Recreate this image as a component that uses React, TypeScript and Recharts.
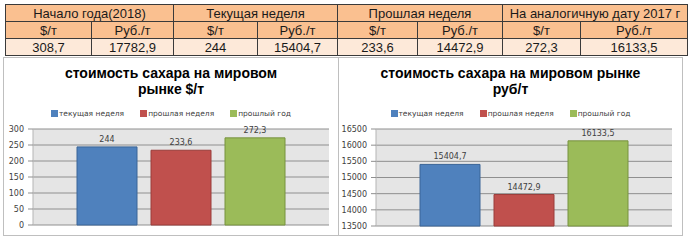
import { BarChart, Bar, XAxis, YAxis, CartesianGrid, Legend, LabelList } from 'recharts';

const groupHeaders = ['Начало года(2018)', 'Текущая неделя', 'Прошлая неделя', 'На аналогичную дату 2017 г'];
const unitHeaders = ['$/т', 'Руб./т', '$/т', 'Руб./т', '$/т', 'Руб./т', '$/т', 'Руб./т'];
const tableValues = ['308,7', '17782,9', '244', '15404,7', '233,6', '14472,9', '272,3', '16133,5'];
const colWidths = [86, 82, 84, 80, 80, 85, 78, 107];

const seriesNames = ['текущая неделя', 'прошлая неделя', 'прошлый год'];
const seriesColors = ['#4F81BD', '#C0504D', '#9BBB59'];
const seriesStrokes = ['#3A6597', '#9A3C3A', '#77923F'];
const usdValues = [244, 233.6, 272.3];
const rubValues = [15404.7, 14472.9, 16133.5];
const usdTicks = [0, 50, 100, 150, 200, 250, 300];
const rubTicks = [13500, 14000, 14500, 15000, 15500, 16000, 16500];

const chartFont = '"DejaVu Sans", Verdana, sans-serif';
const fmt = (v: any) => String(v).replace('.', ',');

const toRow = (vals: number[]) => {
  const row: Record<string, any> = { name: '' };
  vals.forEach((v, i) => (row['s' + i] = v));
  return [row];
};

const LegendBox = (props: any) => {
  const items = [...(props.payload || [])].sort((a: any, b: any) => seriesNames.indexOf(a.value) - seriesNames.indexOf(b.value));
  return (
    <div style={{ display: 'flex', justifyContent: 'center', gap: 16, fontFamily: chartFont, fontSize: 7.5, color: '#404040' }}>
      {items.map((p: any) => (
        <div key={p.value} style={{ display: 'flex', alignItems: 'center' }}>
          <span style={{ width: 7, height: 7, background: p.color, marginRight: 1 }} />
          {p.value}
        </div>
      ))}
    </div>
  );
};

type PanelProps = {
  left: number;
  width: number;
  title: string[];
  values: number[];
  ticks: number[];
  axisWidth: number;
  bottom: number;
  right: number;
};

const Panel = ({ left, width, title, values, ticks, axisWidth, bottom, right }: PanelProps) => (
  <div style={{ position: 'absolute', left, top: 57, width, height: 179, border: '1px solid #BFBFBF', boxSizing: 'border-box', background: '#fff' }}>
    <div style={{ position: 'absolute', left: 0, top: 7, width: '100%', textAlign: 'center', fontFamily: '"Liberation Sans", Arial, sans-serif', fontWeight: 'bold', fontSize: 14, lineHeight: '16px', color: '#000' }}>
      {title.map((t) => (
        <div key={t}>{t}</div>
      ))}
    </div>
    <div style={{ position: 'absolute', left: -1, top: -1 }}>
      <BarChart width={width} height={179} data={toRow(values)} margin={{ top: 72, right, bottom, left: 0 }} barSize={60} barGap={14}>
        <CartesianGrid vertical={false} stroke="#8F8F8F" fill="#E5E5E5" fillOpacity={1} />
        <XAxis dataKey="name" hide />
        <YAxis
          domain={[ticks[0], ticks[ticks.length - 1]]}
          ticks={ticks}
          interval={0}
          width={axisWidth}
          tickSize={5}
          tickMargin={4}
          axisLine={{ stroke: '#B5B5B5' }}
          tickLine={{ stroke: '#8F8F8F' }}
          tick={{ fontSize: 8, fill: '#404040', fontFamily: chartFont }}
        />
        <Legend verticalAlign="middle" wrapperStyle={{ top: 52, left: 0, width: '100%' }} content={LegendBox} />
        {seriesNames.map((n, i) => (
          <Bar key={n} dataKey={'s' + i} name={n} fill={seriesColors[i]} stroke={seriesStrokes[i]} strokeWidth={1} isAnimationActive={false}>
            <LabelList dataKey={'s' + i} position="top" offset={5} formatter={fmt} style={{ fontSize: 8, fill: '#404040', fontFamily: chartFont }} />
          </Bar>
        ))}
      </BarChart>
    </div>
  </div>
);

const cell = (bg: string, extra: any = {}) => ({
  background: bg,
  border: '1px solid #3A3A3A',
  padding: 0,
  height: 16,
  textAlign: 'center' as const,
  ...extra,
});

export default function App() {
  return (
    <div style={{ position: 'absolute', left: 0, top: 0, width: 694, height: 241, background: '#fff', overflow: 'hidden' }}>
      <table style={{ position: 'absolute', left: 5, top: 4, borderCollapse: 'collapse', fontFamily: '"Liberation Sans", Arial, sans-serif', fontSize: 13, color: '#1a1a1a', tableLayout: 'fixed', lineHeight: '15px' }}>
        <colgroup>
          {colWidths.map((w, i) => (
            <col key={i} style={{ width: w }} />
          ))}
        </colgroup>
        <tbody>
          <tr>
            {groupHeaders.map((h) => (
              <td key={h} colSpan={2} style={cell('#FAC090')}>{h}</td>
            ))}
          </tr>
          <tr>
            {unitHeaders.map((h, i) => (
              <td key={i} style={cell('#FAC090')}>{h}</td>
            ))}
          </tr>
          <tr>
            {tableValues.map((v, i) => (
              <td key={i} style={cell('#FDE9D9')}>{v}</td>
            ))}
          </tr>
        </tbody>
      </table>
      <Panel left={3} width={336} title={['стоимость сахара на мировом', 'рынке $/т']} values={usdValues} ticks={usdTicks} axisWidth={30} bottom={11} right={10} />
      <Panel left={338} width={345} title={['стоимость сахара на мировом рынке', 'руб/т']} values={rubValues} ticks={rubTicks} axisWidth={38} bottom={10} right={11} />
    </div>
  );
}
